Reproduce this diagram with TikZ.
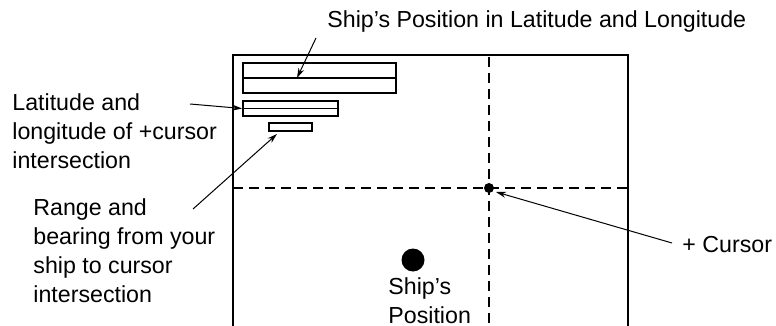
\documentclass[tikz,border=0pt]{standalone}
\usepackage{fontspec}
\setmainfont{Liberation Sans}
\usetikzlibrary{arrows.meta}
\begin{document}
\begin{tikzpicture}[x=0.5pt,y=-0.5pt,
  lbl/.style={inner sep=0pt, font=\fontsize{11.6}{14.5}\selectfont, align=left},
  frame/.style={line width=1pt},
  dashline/.style={line width=0.9pt, dash pattern=on 5pt off 3pt},
  boxnode/.style={draw, line width=0.9pt, rectangle, inner sep=0pt},
  leader/.style={line width=0.5pt, -{Stealth[length=5pt,width=3pt]}},
  dot/.style={circle, fill=black, inner sep=0pt}]
\useasboundingbox (0,0) rectangle (776,326);
% frame
\draw[frame] (233,326) -- (233,55) -- (628,55) -- (628,326);
% dashed cursor lines
\draw[dashline] (489,57) -- (489,326);
\draw[dashline] (233,188) -- (628,188);
% boxes
\node[boxnode, minimum width=76.5pt, minimum height=15pt] (big) at (319.5,78) {};
\draw[line width=0.9pt] (big.west) -- (big.east);
\node[boxnode, minimum width=47.5pt, minimum height=7.5pt] (mid) at (290.5,108.5) {};
\draw[line width=0.9pt] (mid.west) -- (mid.east);
\node[boxnode, minimum width=21.5pt, minimum height=4pt] (small) at (290.5,127) {};
% dots
\node[dot, minimum size=5pt] (cur) at (489,188) {};
\node[dot, minimum size=11.5pt] (ship) at (413,260) {};
% labels
\node[lbl, anchor=west] (title) at (327,22) {Ship's Position in Latitude and Longitude};
\node[lbl, anchor=north west] (latlbl) at (12,93) {Latitude and\\longitude of +cursor\\intersection};
\node[lbl, anchor=north west] (rnglbl) at (33,198) {Range and\\bearing from your\\ship to cursor\\intersection};
\node[lbl, anchor=north west] (shiplbl) at (388,277) {Ship's\\Position};
\node[lbl, anchor=west] (curlbl) at (682,245) {+ Cursor};
% leader coordinates
\coordinate (t0) at (316,38);
\coordinate (t1) at (297,78);
\coordinate (l0) at (190,104);
\coordinate (r0) at (193,209);
\coordinate (r1) at (277,134);
\coordinate (c0) at (672,243);
\coordinate (c1) at (496,192);
\draw[leader] (t0) -- (t1);
\draw[leader] (l0) -- (mid.west);
\draw[leader] (r0) -- (r1);
\draw[leader] (c0) -- (c1);
\end{tikzpicture}
\end{document}
